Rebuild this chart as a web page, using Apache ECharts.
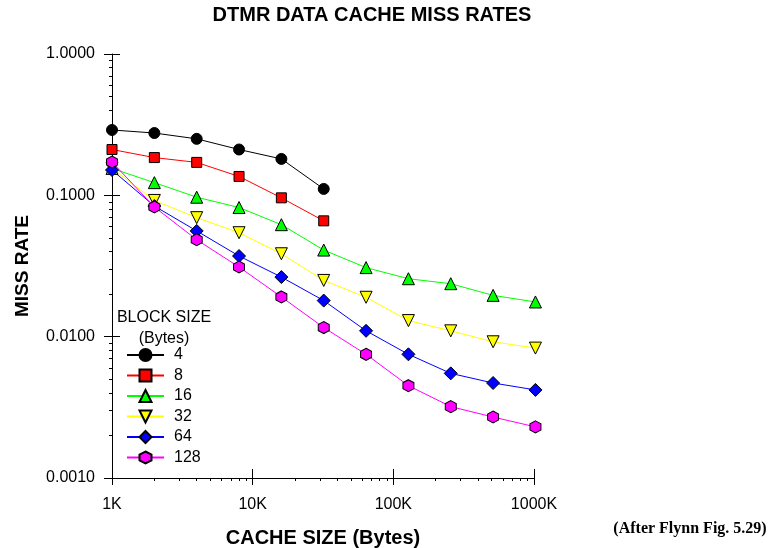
<!DOCTYPE html>
<html>
<head>
<meta charset="utf-8">
<script src="https://cdn.jsdelivr.net/npm/echarts@6/dist/echarts.min.js"></script>
<style>
html,body{margin:0;padding:0;background:#fff;}
#c{width:770px;height:548px;}
</style>
</head>
<body>
<div id="c"></div>
<script>
// ---- data ----
const cacheSizeK = [1, 2, 4, 8, 16, 32, 64, 128, 256, 512, 1024];
const blockSizes = ['4', '8', '16', '32', '64', '128'];
const miss4   = [0.29, 0.276, 0.251, 0.211, 0.181, 0.111];
const miss8   = [0.211, 0.185, 0.171, 0.136, 0.096, 0.066];
const miss16  = [0.155, 0.123, 0.097, 0.082, 0.062, 0.041, 0.0308, 0.0257, 0.0237, 0.0196, 0.0176];
const miss32  = [0.155, 0.092, 0.0695, 0.0544, 0.0386, 0.025, 0.019, 0.013, 0.011, 0.0092, 0.0083];
const miss64  = [0.151, 0.084, 0.056, 0.0372, 0.0264, 0.018, 0.011, 0.0075, 0.0055, 0.0047, 0.0042];
const miss128 = [0.172, 0.0827, 0.0485, 0.0311, 0.0191, 0.0116, 0.0075, 0.0045, 0.0032, 0.0027, 0.0023];
const xMajorTicks = [1, 10, 100, 1000];
const xMinorTicks = [2, 3, 4, 5, 6, 7, 8, 9, 20, 30, 40, 50, 60, 70, 80, 90, 200, 300, 400, 500, 600, 700, 800, 900];
const yMajorTicks = [0.001, 0.01, 0.1, 1];
const yMinorTicks = [0.002, 0.003, 0.004, 0.005, 0.006, 0.007, 0.008, 0.009,
                     0.02, 0.03, 0.04, 0.05, 0.06, 0.07, 0.08, 0.09,
                     0.2, 0.3, 0.4, 0.5, 0.6, 0.7, 0.8, 0.9];

const missSeries = [miss4, miss8, miss16, miss32, miss64, miss128];
const colors = ['#000000', '#ff0000', '#00ff00', '#ffff00', '#0000ff', '#ff00ff'];
const hexagon = 'path://M0,-1 L0.866,-0.5 L0.866,0.5 L0,1 L-0.866,0.5 L-0.866,-0.5 Z';
const symbols = ['circle', 'rect', 'triangle', 'triangle', 'diamond', hexagon];
const symbolSizes = [11, 10, 12, 12, 13, [11, 12]];
const symbolRotates = [0, 0, 0, 180, 0, 0];

const FONT = '"Liberation Sans", Arial, sans-serif';

const chart = echarts.init(document.getElementById('c'), null, {renderer: 'canvas'});

function logAxisBase(min, max, pos) {
  return {
    type: 'log', logBase: 10, min: min, max: max, position: pos,
    splitLine: {show: false}, minorTick: {show: false}, minorSplitLine: {show: false}
  };
}

const xAxes = [
  Object.assign(logAxisBase(1, 1000, 'bottom'), {
    axisLine: {show: true, lineStyle: {color: '#000', width: 1}},
    axisTick: {show: true, inside: false, length: 7, customValues: xMajorTicks, lineStyle: {color: '#000', width: 1}},
    axisLabel: {show: true, customValues: xMajorTicks, formatter: v => Math.round(v) + 'K', margin: 19,
                fontSize: 16, color: '#000', fontFamily: FONT},
    name: 'CACHE SIZE (Bytes)', nameLocation: 'middle', nameGap: 50,
    nameTextStyle: {fontSize: 20, fontWeight: 'bold', color: '#000', fontFamily: FONT}
  }),
  Object.assign(logAxisBase(1, 1000, 'bottom'), {
    axisLine: {show: false},
    axisTick: {show: true, inside: true, length: 9, customValues: [10, 100, 1000], lineStyle: {color: '#000', width: 1}},
    axisLabel: {show: false}
  }),
  Object.assign(logAxisBase(1, 1000, 'bottom'), {
    axisLine: {show: false},
    axisTick: {show: true, inside: false, length: 3, customValues: xMinorTicks, lineStyle: {color: '#000', width: 1}},
    axisLabel: {show: false}
  })
];

const yAxes = [
  Object.assign(logAxisBase(0.001, 1, 'left'), {
    axisLine: {show: true, lineStyle: {color: '#000', width: 1}},
    axisTick: {show: true, inside: false, length: 8, customValues: yMajorTicks, lineStyle: {color: '#000', width: 1}},
    axisLabel: {show: true, customValues: yMajorTicks, formatter: v => v.toFixed(4), margin: 17,
                fontSize: 16, color: '#000', fontFamily: FONT},
    name: 'MISS RATE', nameLocation: 'middle', nameGap: 80, nameRotate: 90,
    nameTextStyle: {fontSize: 19, fontWeight: 'bold', color: '#000', fontFamily: FONT}
  }),
  Object.assign(logAxisBase(0.001, 1, 'left'), {
    axisLine: {show: false},
    axisTick: {show: true, inside: true, length: 8, customValues: [0.01, 0.1, 1], lineStyle: {color: '#000', width: 1}},
    axisLabel: {show: false}
  }),
  Object.assign(logAxisBase(0.001, 1, 'left'), {
    axisLine: {show: false},
    axisTick: {show: true, inside: false, length: 3, customValues: yMinorTicks, lineStyle: {color: '#000', width: 1}},
    axisLabel: {show: false}
  })
];

const series = blockSizes.map((name, i) => ({
  name: name,
  type: 'line',
  xAxisIndex: 0,
  yAxisIndex: 0,
  clip: false,
  data: missSeries[i].map((v, j) => [cacheSizeK[j], v]),
  symbol: symbols[i],
  symbolSize: symbolSizes[i],
  symbolRotate: symbolRotates[i],
  showAllSymbol: true,
  lineStyle: {color: colors[i], width: 1},
  itemStyle: {color: colors[i], borderColor: '#000', borderWidth: 1},
  emphasis: {disabled: true},
  animation: false
}));

chart.setOption({
  animation: false,
  backgroundColor: '#fff',
  grid: {left: 112, top: 54, width: 422, height: 424, containLabel: false, outerBoundsMode: 'none'},
  xAxis: xAxes,
  yAxis: yAxes,
  legend: {
    orient: 'vertical', left: 126, top: 347, padding: 0,
    itemWidth: 37, itemHeight: 15, itemGap: 4.5,
    data: blockSizes,
    textStyle: {fontSize: 16, color: '#000', fontFamily: FONT, padding: [0, 0, 0, 5]},
    selectedMode: false
  },
  graphic: [
    {type: 'text', x: 372, y: 15, style: {text: 'DTMR DATA CACHE MISS RATES', align: 'center', verticalAlign: 'middle',
      font: 'bold 20px ' + FONT, fill: '#000'}},
    {type: 'text', x: 164, y: 328, style: {text: 'BLOCK SIZE\n(Bytes)', align: 'center', verticalAlign: 'middle',
      font: '16px ' + FONT, lineHeight: 21, fill: '#000'}},
    {type: 'text', x: 690, y: 529, style: {text: '(After Flynn Fig. 5.29)', align: 'center', verticalAlign: 'middle',
      font: 'bold 16px "Liberation Serif", "Times New Roman", serif', fill: '#000'}}
  ],
  series: series
});
</script>
</body>
</html>
